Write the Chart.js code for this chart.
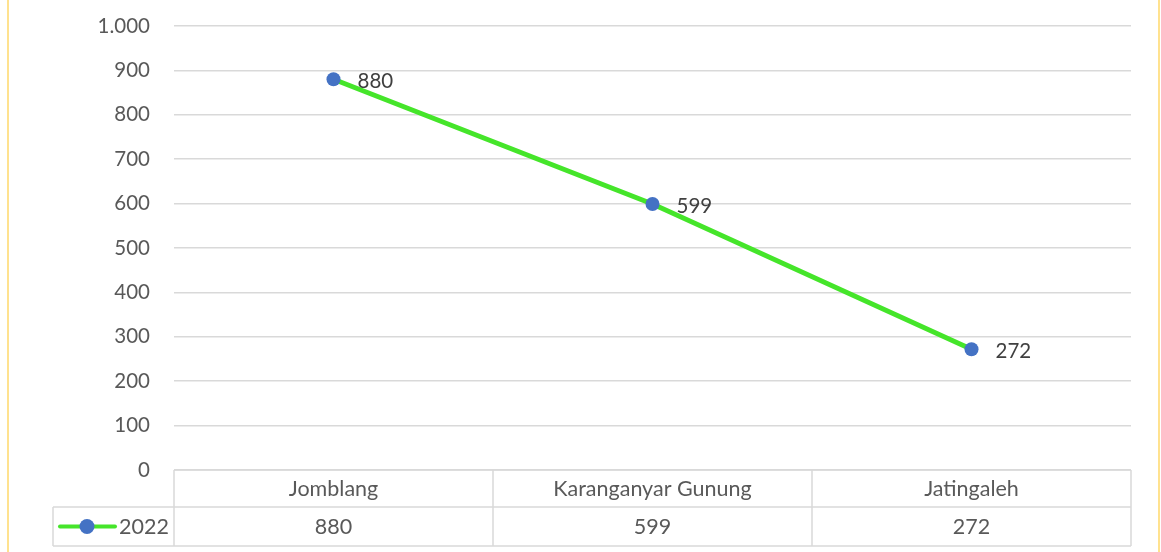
<!DOCTYPE html>
<html><head><meta charset="utf-8">
<script src="https://cdn.jsdelivr.net/npm/chart.js@4"></script>
<style>html,body{margin:0;padding:0;background:#fff}#wrap{width:1161px;height:552px;position:relative}</style>
</head><body><div id="wrap"><canvas id="c" width="1161" height="552"></canvas></div>
<script>
const categories = ['Jomblang', 'Karanganyar Gunung', 'Jatingaleh'];
const seriesName = '2022';
const values2022 = [880, 599, 272];
const FONT = 'Lato, "Open Sans", sans-serif';

const fmt = v => v.toLocaleString('de-DE');

const extras = {
  id: 'extras',
  afterDraw(chart) {
    const ctx = chart.ctx;
    const area = chart.chartArea;
    const xs = chart.scales.x;
    const meta = chart.getDatasetMeta(0);
    ctx.save();
    // outer yellow border lines
    ctx.strokeStyle = '#ffe28f';
    ctx.lineWidth = 2;
    ctx.beginPath();
    ctx.moveTo(8, 0); ctx.lineTo(8, 552);
    ctx.moveTo(1159, 0); ctx.lineTo(1159, 552);
    ctx.stroke();

    // data labels
    ctx.fillStyle = '#404040';
    ctx.font = '20.5px ' + FONT;
    ctx.textAlign = 'left';
    ctx.textBaseline = 'middle';
    meta.data.forEach((pt, i) => {
      ctx.fillText(fmt(values2022[i]), pt.x + 24, pt.y + 2);
    });

    // data table
    const top = area.bottom, mid = top + 37, bot = top + 76;
    const n = categories.length;
    const colW = (area.right - area.left) / n;
    const legendLeft = 53;
    ctx.strokeStyle = '#d9d9d9';
    ctx.lineWidth = 1.5;
    ctx.beginPath();
    ctx.moveTo(area.left, top); ctx.lineTo(area.right, top);
    ctx.moveTo(legendLeft, mid); ctx.lineTo(area.right, mid);
    ctx.moveTo(legendLeft, bot); ctx.lineTo(area.right, bot);
    ctx.moveTo(legendLeft, mid); ctx.lineTo(legendLeft, bot);
    for (let i = 0; i <= n; i++) {
      const x = area.left + colW * i;
      ctx.moveTo(x, top); ctx.lineTo(x, bot);
    }
    ctx.stroke();

    ctx.fillStyle = '#595959';
    ctx.font = '21.5px ' + FONT;
    ctx.textAlign = 'center';
    categories.forEach((c, i) => {
      const cx = xs.getPixelForValue(i);
      ctx.fillText(c, cx, (top + mid) / 2 + 1);
      ctx.fillText(fmt(values2022[i]), cx, (mid + bot) / 2 + 1);
    });
    // legend key
    const ky = (mid + bot) / 2;
    ctx.strokeStyle = '#45e52a';
    ctx.lineWidth = 4;
    ctx.lineCap = 'round';
    ctx.beginPath(); ctx.moveTo(60, ky); ctx.lineTo(115, ky); ctx.stroke();
    ctx.fillStyle = '#4472c4';
    ctx.beginPath(); ctx.arc(87, ky, 7.5, 0, Math.PI * 2); ctx.fill();
    ctx.fillStyle = '#595959';
    ctx.textAlign = 'left';
    ctx.fillText(seriesName, 119, ky + 1);
    ctx.restore();
  }
};

new Chart(document.getElementById('c'), {
  type: 'line',
  data: {
    labels: categories,
    datasets: [{
      label: seriesName,
      data: values2022,
      borderColor: '#45e52a',
      borderWidth: 5,
      pointBackgroundColor: '#4472c4',
      pointBorderColor: '#4472c4',
      pointRadius: 7,
      pointBorderWidth: 0,
      tension: 0
    }]
  },
  options: {
    responsive: false,
    animation: false,
    events: [],
    layout: { padding: { left: 0, right: 30, top: 26, bottom: 82 } },
    plugins: { legend: { display: false }, tooltip: { enabled: false } },
    scales: {
      x: { type: 'category', offset: true, display: false },
      y: {
        min: 0, max: 1000,
        afterFit(s) { s.width = 174; s.paddingTop = 0; s.paddingBottom = 0; },
        border: { display: false },
        grid: { color: '#d9d9d9', lineWidth: 1.5, drawTicks: false },
        ticks: {
          stepSize: 100, padding: 24, color: '#595959',
          font: { family: FONT, size: 20.5 },
          callback: v => fmt(v)
        }
      }
    }
  },
  plugins: [extras]
});
</script></body></html>
